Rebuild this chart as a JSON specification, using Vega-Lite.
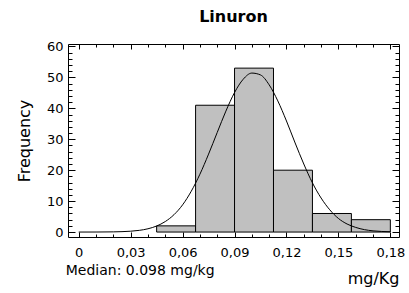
{
  "$schema": "https://vega.github.io/schema/vega-lite/v6.json",
  "width": 331,
  "height": 193,
  "autosize": {"type": "none"},
  "padding": {"left": 68, "top": 44, "right": 10, "bottom": 56},
  "background": "white",
  "title": {"text": "Linuron", "font": "DejaVu Sans", "fontSize": 16, "fontWeight": "bold", "color": "black", "offset": 15, "anchor": "middle"},
  "config": {
    "view": {"stroke": "black", "strokeWidth": 1},
    "axis": {"domain": false, "grid": false, "labelFont": "DejaVu Sans", "labelFontSize": 13, "labelColor": "black", "tickColor": "black", "titleFont": "DejaVu Sans", "titleFontWeight": "normal", "titleColor": "black", "titleFontSize": 16, "labelOverlap": false, "labelFlush": false}
  },
  "resolve": {"scale": {"x": "independent", "y": "independent"}, "axis": {"x": "independent", "y": "independent"}},
  "layer": [
    {
      "data": {"values": [
        {"start": 0.045, "end": 0.0675, "count": 2},
        {"start": 0.0675, "end": 0.09, "count": 41},
        {"start": 0.09, "end": 0.1125, "count": 53},
        {"start": 0.1125, "end": 0.135, "count": 20},
        {"start": 0.135, "end": 0.1575, "count": 6},
        {"start": 0.1575, "end": 0.18, "count": 4}
      ]},
      "mark": {"type": "bar", "fill": "#c0c0c0", "stroke": "black", "strokeWidth": 1},
      "encoding": {
        "x": {"field": "start", "type": "quantitative",
          "scale": {"domain": [-0.0062, 0.185], "nice": false, "zero": false},
          "axis": {"orient": "bottom", "values": [0,0.01,0.02,0.03,0.04,0.05,0.06,0.07,0.08,0.09,0.1,0.11,0.12,0.13,0.14,0.15,0.16,0.17,0.18],
            "title": "mg/Kg", "titleAnchor": "end", "titleAlign": "right", "titlePadding": 9,
            "tickSize": {"condition": {"test": "round(datum.value*100) % 3 === 0", "value": -5}, "value": -3},
            "labelPadding": 14,
            "labelExpr": "round(datum.value*100) % 3 === 0 ? (datum.value === 0 ? '0' : replace(format(datum.value, '.2f'), '.', ',')) : ''"}},
        "x2": {"field": "end"},
        "y": {"field": "count", "type": "quantitative",
          "scale": {"domain": [-1.6, 60.8], "nice": false, "zero": false},
          "axis": {"orient": "left", "values": [0,2,4,6,8,10,12,14,16,18,20,22,24,26,28,30,32,34,36,38,40,42,44,46,48,50,52,54,56,58,60],
            "title": "Frequency", "titlePadding": 14,
            "tickSize": {"condition": {"test": "datum.value % 10 === 0", "value": -7}, "value": -4},
            "labelPadding": 12,
            "labelExpr": "datum.value % 10 === 0 ? datum.label : ''"}},
        "y2": {"datum": 0}
      }
    },
    {
      "data": {"values": [
        {"mg": 0.0, "freq": 0.0}, {"mg": 0.01, "freq": 0.01}, {"mg": 0.02, "freq": 0.06},
        {"mg": 0.025, "freq": 0.13}, {"mg": 0.03, "freq": 0.27}, {"mg": 0.035, "freq": 0.55},
        {"mg": 0.04, "freq": 1.06}, {"mg": 0.045, "freq": 1.95}, {"mg": 0.05, "freq": 3.4},
        {"mg": 0.055, "freq": 5.6}, {"mg": 0.06, "freq": 8.8}, {"mg": 0.065, "freq": 13.2},
        {"mg": 0.07, "freq": 18.7}, {"mg": 0.075, "freq": 25.2}, {"mg": 0.08, "freq": 32.2},
        {"mg": 0.085, "freq": 39.1}, {"mg": 0.09, "freq": 45.1}, {"mg": 0.095, "freq": 49.4},
        {"mg": 0.1, "freq": 51.4}, {"mg": 0.105, "freq": 50.8}, {"mg": 0.11, "freq": 47.6},
        {"mg": 0.115, "freq": 42.4}, {"mg": 0.12, "freq": 35.9}, {"mg": 0.125, "freq": 28.8},
        {"mg": 0.13, "freq": 22.0}, {"mg": 0.135, "freq": 15.9}, {"mg": 0.14, "freq": 11.0},
        {"mg": 0.145, "freq": 7.2}, {"mg": 0.15, "freq": 4.4}, {"mg": 0.155, "freq": 2.6},
        {"mg": 0.16, "freq": 1.5}, {"mg": 0.165, "freq": 0.78}, {"mg": 0.17, "freq": 0.39},
        {"mg": 0.175, "freq": 0.19}, {"mg": 0.18, "freq": 0.09}
      ]},
      "mark": {"type": "line", "color": "black", "strokeWidth": 1, "interpolate": "monotone"},
      "encoding": {
        "x": {"field": "mg", "type": "quantitative",
          "scale": {"domain": [-0.0062, 0.185], "nice": false, "zero": false},
          "axis": {"orient": "top", "values": [0,0.01,0.02,0.03,0.04,0.05,0.06,0.07,0.08,0.09,0.1,0.11,0.12,0.13,0.14,0.15,0.16,0.17,0.18],
            "title": null, "labels": false,
            "tickSize": {"condition": {"test": "round(datum.value*100) % 3 === 0", "value": -5}, "value": -3}}},
        "y": {"field": "freq", "type": "quantitative",
          "scale": {"domain": [-1.6, 60.8], "nice": false, "zero": false},
          "axis": {"orient": "right", "values": [0,2,4,6,8,10,12,14,16,18,20,22,24,26,28,30,32,34,36,38,40,42,44,46,48,50,52,54,56,58,60],
            "title": null, "labels": false,
            "tickSize": {"condition": {"test": "datum.value % 10 === 0", "value": -7}, "value": -4}}}
      }
    },
    {
      "data": {"values": [{"label": "Median: 0.098 mg/kg"}]},
      "mark": {"type": "text", "align": "left", "baseline": "middle", "font": "DejaVu Sans", "fontSize": 14, "color": "black"},
      "encoding": {
        "text": {"field": "label"},
        "x": {"datum": -0.0075, "type": "quantitative", "scale": {"domain": [-0.0062, 0.185], "nice": false, "zero": false}, "axis": null},
        "y": {"datum": -12.7, "type": "quantitative", "scale": {"domain": [-1.6, 60.8], "nice": false, "zero": false}, "axis": null}
      }
    }
  ]
}
